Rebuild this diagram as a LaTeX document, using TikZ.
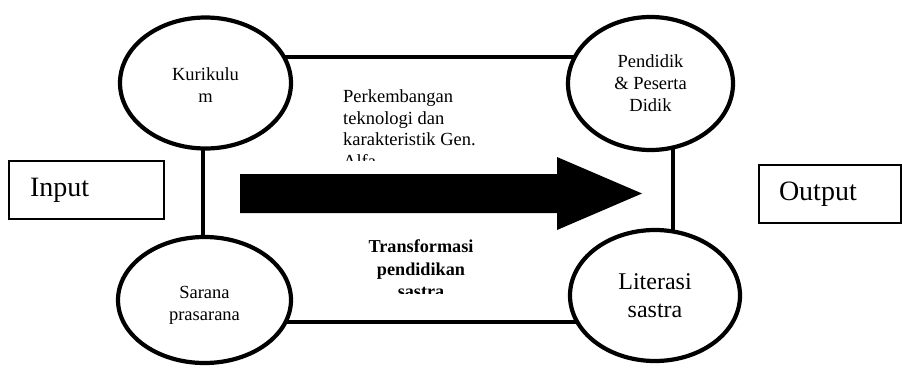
\documentclass[tikz,border=0pt]{standalone}
\usepackage{fontspec}
\setmainfont{Liberation Serif}
\usetikzlibrary{shapes.geometric}
\pgfdeclarelayer{background}
\pgfsetlayers{background,main}
\begin{document}
\begin{tikzpicture}[x=1pt,y=-1pt,
  oval/.style={ellipse,draw=black,line width=4.2pt,fill=white,inner sep=0pt,align=center,
    font=\fontsize{18.5}{22}\selectfont},
  conn/.style={line width=4pt},
  iobox/.style={rectangle,draw=black,line width=1.4pt,minimum height=58pt,align=left,
    inner ysep=0pt,font=\fontsize{28}{32}\selectfont},
  midtext/.style={inner sep=0pt,font=\fontsize{18.5}{21.6}\selectfont}
]
\useasboundingbox (0,0) rectangle (902,367);

% ovals
\node[oval,minimum width=171pt,minimum height=131pt,text height=38pt] (kur) at (205.5,83) {Kurikulu\\m};
\node[oval,minimum width=165pt,minimum height=133pt] (pen) at (650.5,83.5) {Pendidik\\\& Peserta\\Didik};
\node[oval,minimum width=173pt,minimum height=126pt,text height=44pt] (sar) at (204.5,300) {Sarana\\prasarana};
\node[oval,minimum width=170pt,minimum height=131pt,font=\fontsize{24}{28}\selectfont] (lit) at (655,295.5) {Literasi\\sastra};

% connector frame
\coordinate (ytop) at (0,57);
\coordinate (ybot) at (0,322);
\coordinate (xl) at (203,0);
\coordinate (xr) at (673,0);
\begin{pgfonlayer}{background}
\fill[white] (0,0) rectangle (902,367);
\draw[conn] (kur.center |- ytop) -- (pen.center |- ytop);
\draw[conn] (sar.center |- ybot) -- (lit.center |- ybot);
\draw[conn] (xl |- kur.center) -- (xl |- sar.center);
\draw[conn] (xr |- pen.center) -- (xr |- lit.center);
\end{pgfonlayer}

% big arrow
\fill[black] (240,174) -- (557,174) -- (557,157) -- (642,193.5) -- (557,230) -- (557,213) -- (240,213) -- cycle;

% middle texts (clipped like text boxes)
\begin{scope}
\clip (320,70) rectangle (560,160);
\node[midtext,anchor=north west,align=left] (tech) at (343,89.5)
  {Perkembangan\\teknologi dan\\karakteristik Gen.\\Alfa};
\end{scope}
\begin{scope}
\clip (300,230) rectangle (545,293);
\node[midtext,anchor=north,align=center,font=\fontsize{18.2}{22.5}\selectfont\bfseries] (trans) at (421,239.5)
  {Transformasi\\pendidikan\\sastra};
\end{scope}

% input / output
\node[iobox,minimum width=155pt,text width=113pt,inner xsep=21pt] (in) at (86.5,190) {Input};
\node[iobox,minimum width=142pt,text width=102pt,inner xsep=20pt] (out) at (830,194) {Output};
\end{tikzpicture}
\end{document}
